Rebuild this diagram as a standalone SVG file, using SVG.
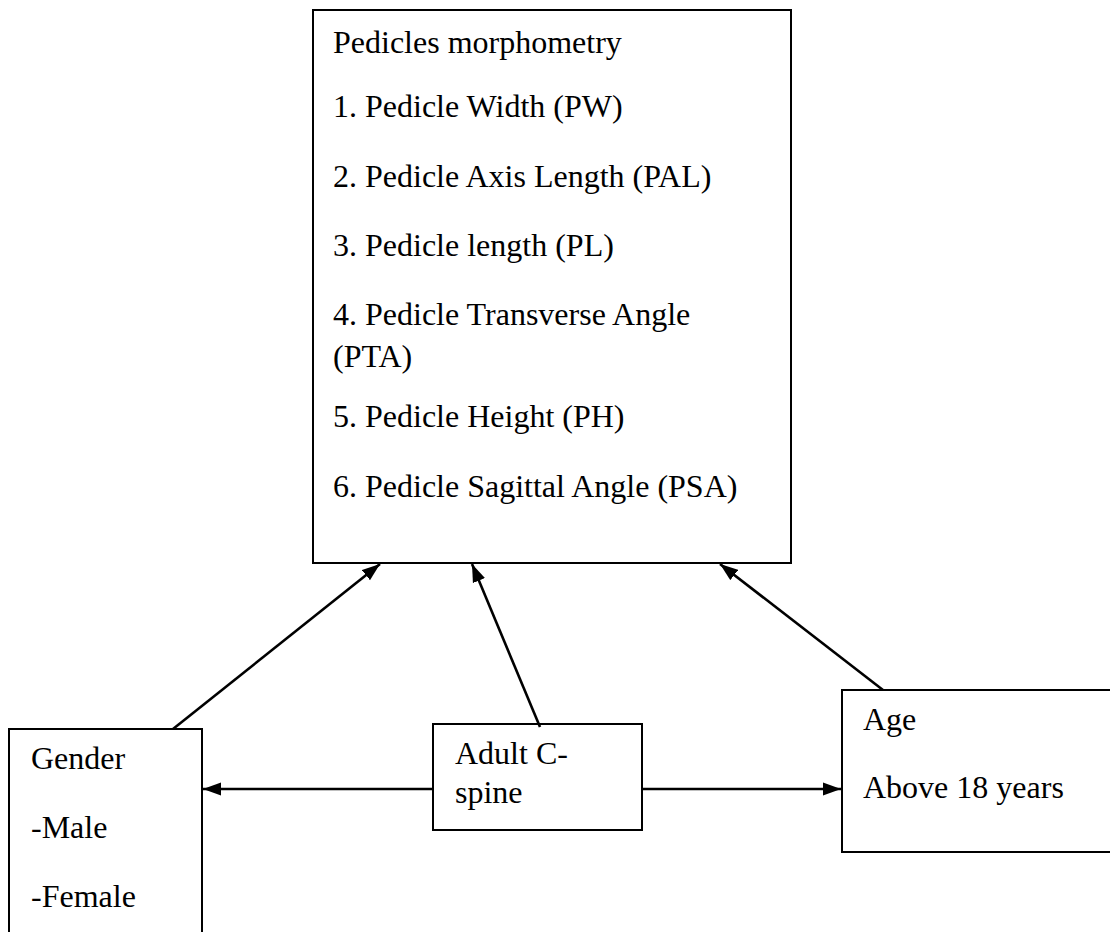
<svg xmlns="http://www.w3.org/2000/svg" width="1110" height="932" viewBox="0 0 1110 932">
<style>
.box{fill:#fff;stroke:#000;stroke-width:2}
.t{font-family:"Liberation Serif","Times New Roman",serif;font-size:32px;fill:#000}
.c{stroke:#000;stroke-width:2.6;fill:none;marker-end:url(#ah)}
</style>
<defs>
<marker id="ah" markerUnits="userSpaceOnUse" markerWidth="19" markerHeight="14" refX="18" refY="7" orient="auto">
<path d="M0,0.5 L18,7 L0,13.5 z" fill="#000"/>
</marker>
</defs>
<rect width="1110" height="932" fill="#fff"/>
<g id="morphometry">
<rect class="box" x="313" y="10" width="478" height="553"/>
<text class="t" x="333" y="53">Pedicles morphometry</text>
<text class="t" x="333" y="117">1. Pedicle Width (PW)</text>
<text class="t" x="333" y="187">2. Pedicle Axis Length (PAL)</text>
<text class="t" x="333" y="256">3. Pedicle length (PL)</text>
<text class="t" x="333" y="325">4. Pedicle Transverse Angle</text>
<text class="t" x="333" y="367">(PTA)</text>
<text class="t" x="333" y="427">5. Pedicle Height (PH)</text>
<text class="t" x="333" y="497">6. Pedicle Sagittal Angle (PSA)</text>
</g>
<g id="gender">
<rect class="box" x="9" y="729" width="193" height="220"/>
<text class="t" x="31" y="769">Gender</text>
<text class="t" x="31" y="838">-Male</text>
<text class="t" x="31" y="907">-Female</text>
</g>
<g id="cspine">
<rect class="box" x="433" y="724" width="209" height="106"/>
<text class="t" x="455" y="764">Adult C-</text>
<text class="t" x="455" y="803">spine</text>
</g>
<g id="age">
<rect class="box" x="842" y="690" width="280" height="162"/>
<text class="t" x="863" y="730">Age</text>
<text class="t" x="863" y="798">Above 18 years</text>
</g>
<g id="connectors">
<line class="c" x1="173" y1="729" x2="380" y2="564"/>
<line class="c" x1="540" y1="727" x2="472" y2="564"/>
<line class="c" x1="883" y1="690" x2="720" y2="564"/>
<line class="c" x1="433" y1="789" x2="203" y2="789"/>
<line class="c" x1="642" y1="789" x2="841" y2="789"/>
</g>
</svg>
